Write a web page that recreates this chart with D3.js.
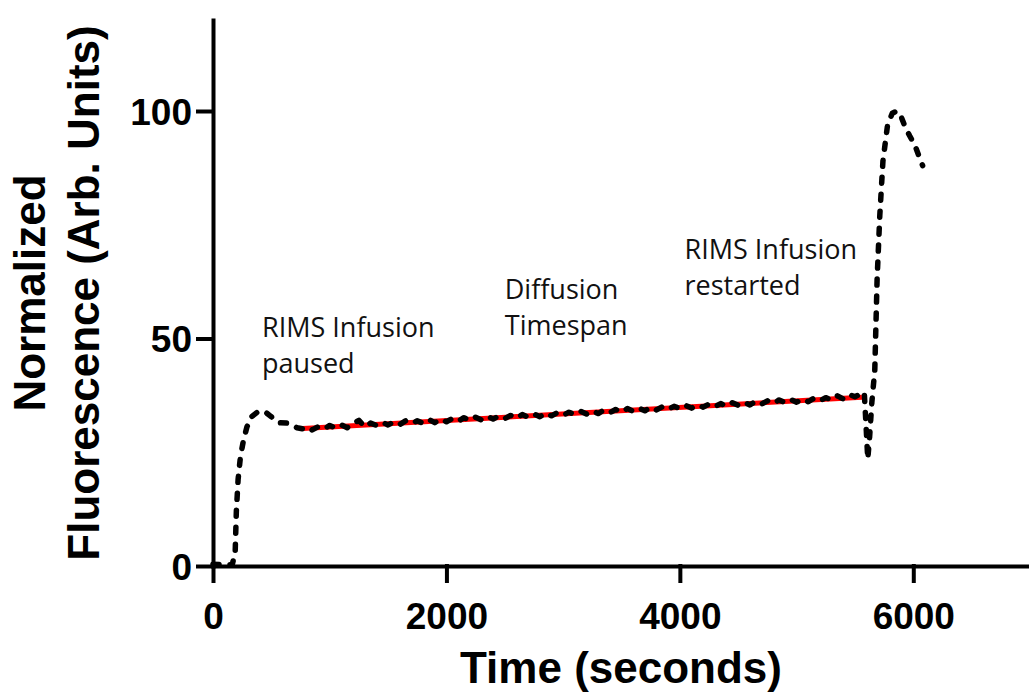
<!DOCTYPE html>
<html>
<head>
<meta charset="utf-8">
<script src="https://cdn.jsdelivr.net/npm/d3@7"></script>
<style>
  body { margin: 0; background: #fff; }
  svg { display: block; }
</style>
</head>
<body>
<div id="chart"></div>
<script>
// trace data
var timeSec = [0, 100, 165, 190, 200, 215, 235, 260, 290, 330, 380, 440, 490, 560, 640, 720, 780,
    800, 850, 900, 950, 1000, 1050, 1100, 1150, 1200, 1250, 1300, 1350, 1400, 1450, 1500,
    1550, 1600, 1650, 1700, 1750, 1800, 1850, 1900, 1950, 2000, 2050, 2100, 2150, 2200,
    2250, 2300, 2350, 2400, 2450, 2500, 2550, 2600, 2650, 2700, 2750, 2800, 2850, 2900,
    2950, 3000, 3050, 3100, 3150, 3200, 3250, 3300, 3350, 3400, 3450, 3500, 3550, 3600,
    3650, 3700, 3750, 3800, 3850, 3900, 3950, 4000, 4050, 4100, 4150, 4200, 4250, 4300,
    4350, 4400, 4450, 4500, 4550, 4600, 4650, 4700, 4750, 4800, 4850, 4900, 4950, 5000,
    5050, 5100, 5150, 5200, 5250, 5300, 5350, 5400, 5450, 5500, 5550,
    5580, 5595, 5610, 5625, 5645, 5670, 5690, 5713, 5740, 5780, 5820, 5860, 5900, 5930,
    5970, 6013, 6050, 6080];
var fluorescence = [0.4, 0.3, 0.3, 3, 12, 19, 24, 27.5, 30.5, 32.8, 33.8, 34, 33, 31.5, 31.4, 30.4, 30.1,
    30.5, 29.9, 30.6, 30.1, 30.9, 30.3, 31.0, 30.4, 31.3, 32.0, 30.6, 31.4, 30.9, 31.6, 31.0,
    31.7, 31.1, 31.9, 31.3, 31.9, 31.4, 32.2, 31.5, 32.3, 31.7, 32.4, 31.8, 32.6, 32.0,
    32.7, 32.1, 32.9, 32.3, 33.0, 32.4, 33.1, 32.5, 33.3, 32.7, 33.4, 32.8, 33.6, 33.0,
    33.7, 33.1, 33.8, 33.3, 34.0, 33.4, 34.1, 33.5, 34.3, 33.7, 34.4, 33.8, 34.6, 34.0,
    34.7, 34.1, 34.9, 34.3, 35.0, 34.4, 35.1, 34.6, 35.3, 34.7, 35.4, 34.9, 35.6, 35.0,
    35.7, 35.1, 35.9, 35.3, 36.0, 35.4, 36.2, 35.6, 36.3, 35.7, 36.5, 35.9, 36.6, 36.0,
    36.7, 36.1, 36.9, 36.3, 37.0, 36.5, 37.4, 36.7, 37.7, 37.2, 37.8,
    38.2, 31, 23.5, 28, 36, 43, 63, 77, 89, 97, 99.5, 100, 98.5, 96.5,
    94.5, 92.5, 90, 88];

// linear fit over the diffusion timespan
var fitTime = [770, 5560];
var fitValue = [30.2, 37.1];

var xTicks = [0, 2000, 4000, 6000];
var yTicks = [0, 50, 100];

var annotations = [
    { lines: ['RIMS Infusion', 'paused'], t: 420, v: 50.3 },
    { lines: ['Diffusion', 'Timespan'], t: 2500, v: 58.6 },
    { lines: ['RIMS Infusion', 'restarted'], t: 4040, v: 67.4 }
];

var width = 1029;
var height = 694;

var svg = d3.select('#chart')
    .append('svg')
    .attr('width', width)
    .attr('height', height);

var x = d3.scaleLinear().domain([0, 7000]).range([213, 1030]);
var y = d3.scaleLinear().domain([0, 120]).range([566, 20]);

var line = d3.line()
    .x(function(d) { return x(d[0]); })
    .y(function(d) { return y(d[1]); });

// fit line (red) goes under the trace
var fit = fitTime.map(function(t, i) { return [t, fitValue[i]]; });
svg.append('path')
    .datum(fit)
    .attr('d', line)
    .attr('fill', 'none')
    .attr('stroke', '#ff0000')
    .attr('stroke-width', 5);

var trace = timeSec.map(function(t, i) { return [t, fluorescence[i]]; });
svg.append('path')
    .datum(trace)
    .attr('d', line)
    .attr('fill', 'none')
    .attr('stroke', '#000')
    .attr('stroke-width', 5.5)
    .attr('stroke-linecap', 'round')
    .attr('stroke-linejoin', 'round')
    .attr('stroke-dasharray', '6,11');

// axes
var xAxis = svg.append('g')
    .attr('transform', 'translate(0,' + y(0) + ')')
    .call(d3.axisBottom(x).tickValues(xTicks).tickSize(15).tickSizeOuter(0).tickPadding(22)
        .tickFormat(d3.format('d')));

var yAxis = svg.append('g')
    .attr('transform', 'translate(' + x(0) + ',0)')
    .call(d3.axisLeft(y).tickValues(yTicks).tickSize(15).tickSizeOuter(0).tickPadding(6)
        .tickFormat(d3.format('d')));

svg.selectAll('.domain, .tick line')
    .attr('stroke', '#000')
    .attr('stroke-width', 4)
    .attr('stroke-linecap', 'square');

svg.selectAll('.tick text')
    .attr('fill', '#000')
    .style('font-family', '"Liberation Sans", Arial, sans-serif')
    .style('font-weight', 'bold')
    .style('font-size', '37px');

yAxis.selectAll('.tick text').attr('dy', '0.36em');

// annotations
annotations.forEach(function(a) {
    var txt = svg.append('text')
        .attr('x', x(a.t))
        .attr('y', y(a.v))
        .style('font-family', '"Open Sans", sans-serif')
        .style('font-size', '27px')
        .attr('fill', '#111');
    a.lines.forEach(function(s, i) {
        txt.append('tspan')
            .attr('x', x(a.t))
            .attr('dy', i === 0 ? 0 : 36)
            .text(s);
    });
});

// axis titles
svg.append('text')
    .attr('x', 621)
    .attr('y', 683)
    .attr('text-anchor', 'middle')
    .style('font-family', '"Liberation Sans", Arial, sans-serif')
    .style('font-weight', 'bold')
    .style('font-size', '44px')
    .text('Time (seconds)');

var yTitle = svg.append('text')
    .attr('transform', 'translate(0,293) rotate(-90)')
    .attr('text-anchor', 'middle')
    .style('font-family', '"Liberation Sans", Arial, sans-serif')
    .style('font-weight', 'bold')
    .style('font-size', '44px');
yTitle.append('tspan').attr('x', 0).attr('y', 45).text('Normalized');
yTitle.append('tspan').attr('x', 0).attr('y', 99).text('Fluorescence (Arb. Units)');
</script>
</body>
</html>
